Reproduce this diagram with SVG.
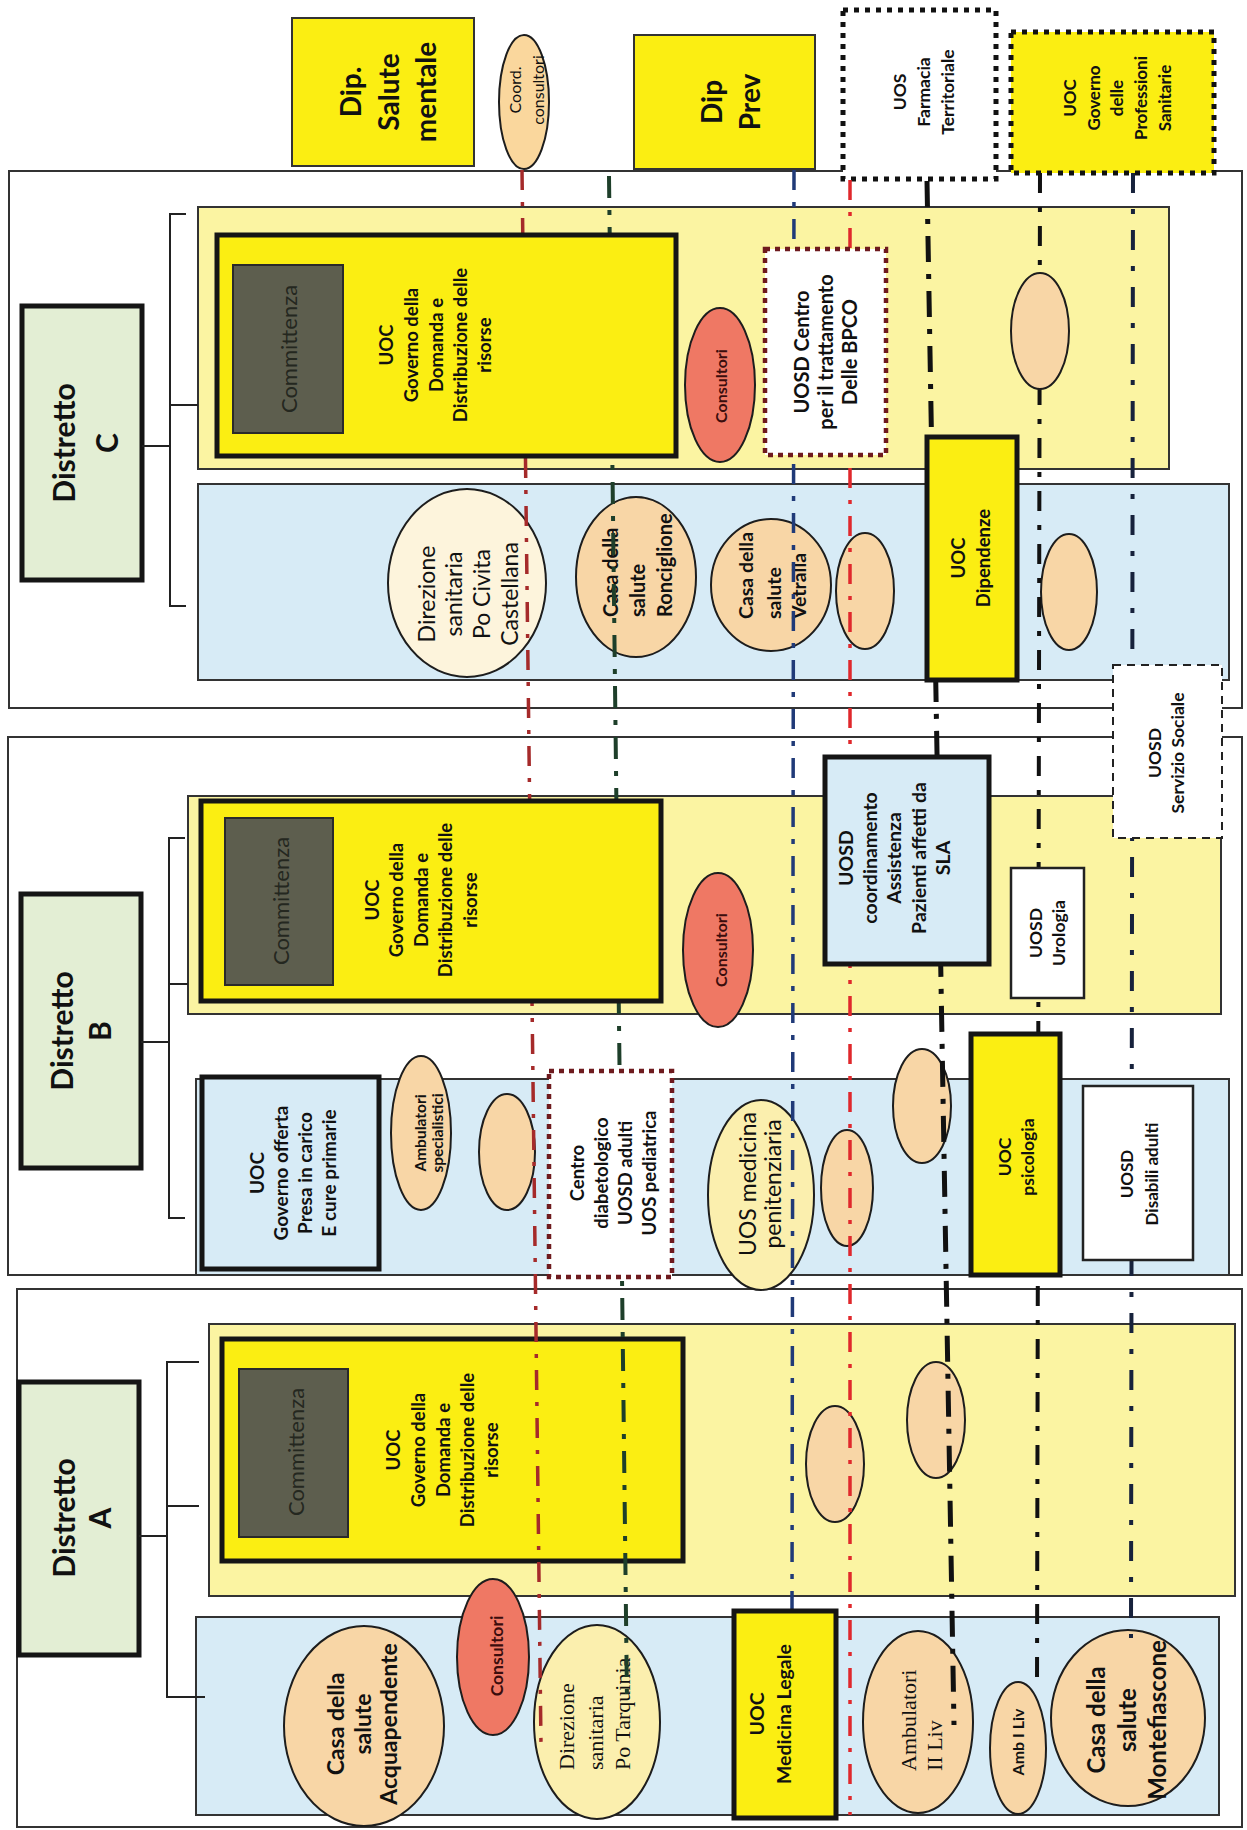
<svg xmlns="http://www.w3.org/2000/svg" width="1247" height="1830" viewBox="0 0 1247 1830">
<style>
.f{font-family:Lato,"Open Sans","Liberation Sans",sans-serif;font-weight:700;fill:#111;text-anchor:middle}
.n{font-weight:400}
.sf{font-family:"Liberation Serif","DejaVu Serif",serif;font-weight:400}
.st{text-anchor:start}
.frame{fill:#fff;stroke:#333;stroke-width:2}
.yb{fill:#fbf4a2;stroke:#333;stroke-width:2}
.bb{fill:#d7ebf6;stroke:#333;stroke-width:2}
.ybox{fill:#fbee12;stroke:#151515;stroke-width:5}
.bbox{fill:#d7ebf6;stroke:#151515;stroke-width:5}
.dist{fill:#e3eed4;stroke:#151515;stroke-width:5}
.comm{fill:#5d5e4e;stroke:#2a2a2a;stroke-width:2}
.topy{fill:#fbee12;stroke:#333;stroke-width:2}
.dotk{fill:#fff;stroke:#111;stroke-width:5;stroke-dasharray:5 6}
.doty{fill:#fbee12;stroke:#111;stroke-width:5;stroke-dasharray:5 6}
.dotr{fill:#fff;stroke:#6e1a1e;stroke-width:4.5;stroke-dasharray:5 5}
.dash{fill:#fff;stroke:#222;stroke-width:2;stroke-dasharray:8 6}
.wbox{fill:#fff;stroke:#222;stroke-width:2.5}
.el{stroke:#1d1d1d;stroke-width:2}
.peach{fill:#f8d6a6}
.cream{fill:#fdf4dc}
.lyel{fill:#fbefae}
.cons{fill:#ef7864}
.coord{fill:#fad79d}
.ct{fill:#24271f;font-weight:400}
.cr{fill:#3b0d0d}
.br{fill:none;stroke:#222;stroke-width:2}
.ln{fill:none}
</style>

<!-- background frames and bands -->
<g id="frameC"><rect class="frame" x="9" y="171" width="1233" height="537"/></g>
<g id="frameB"><rect class="frame" x="8" y="737" width="1234" height="538"/></g>
<g id="frameA"><rect class="frame" x="17" y="1289" width="1225" height="538"/></g>

<g id="yellowC"><rect class="yb" x="198" y="207" width="971" height="262"/></g>
<g id="blueC"><rect class="bb" x="198" y="484" width="1031" height="196"/></g>
<g id="yellowB"><rect class="yb" x="188" y="796" width="1033" height="218"/></g>
<g id="blueB"><rect class="bb" x="196" y="1079" width="1033" height="196"/></g>
<g id="yellowA"><rect class="yb" x="209" y="1324" width="1026" height="272"/></g>
<g id="blueA"><rect class="bb" x="196" y="1617" width="1023" height="198"/></g>

<!-- top boxes -->
<g id="dip-salute-mentale">
<rect class="topy" x="292" y="18" width="182" height="148"/>
<text class="f" font-size="28" transform="translate(0,92) rotate(-90)"><tspan x="0" y="361">Dip.</tspan><tspan x="0" y="399">Salute</tspan><tspan x="0" y="436">mentale</tspan></text>
</g>
<g id="coord-consultori">
<ellipse class="el coord" cx="524" cy="102" rx="25" ry="67"/>
<text class="f n" font-size="16" transform="translate(0,90) rotate(-90)"><tspan x="0" y="521">Coord.</tspan><tspan x="0" y="544">consultori</tspan></text>
</g>
<g id="dip-prev">
<rect class="topy" x="634" y="35" width="181" height="134"/>
<text class="f" font-size="28" transform="translate(0,102) rotate(-90)"><tspan x="0" y="722">Dip</tspan><tspan x="0" y="760">Prev</tspan></text>
</g>
<g id="uos-farmacia">
<rect class="dotk" x="843" y="10" width="153" height="169"/>
<text class="f" font-size="17.5" transform="translate(0,92) rotate(-90)"><tspan x="0" y="906">UOS</tspan><tspan x="0" y="930">Farmacia</tspan><tspan x="0" y="954">Territoriale</tspan></text>
</g>
<g id="uoc-professioni">
<rect class="doty" x="1011" y="32" width="203" height="141"/>
<text class="f" font-size="17" transform="translate(0,98) rotate(-90)"><tspan x="0" y="1076">UOC</tspan><tspan x="0" y="1100">Governo</tspan><tspan x="0" y="1123">delle</tspan><tspan x="0" y="1147">Professioni</tspan><tspan x="0" y="1171">Sanitarie</tspan></text>
</g>

<!-- Distretto labels -->
<g id="distretto-c">
<rect class="dist" x="22" y="306" width="120" height="274"/>
<text class="f" font-size="30" transform="translate(0,443) rotate(-90)"><tspan x="0" y="75">Distretto</tspan><tspan x="0" y="118">C</tspan></text>
</g>
<g id="distretto-b">
<rect class="dist" x="21" y="894" width="120" height="274"/>
<text class="f" font-size="30" transform="translate(0,1031) rotate(-90)"><tspan x="0" y="73">Distretto</tspan><tspan x="0" y="111">B</tspan></text>
</g>
<g id="distretto-a">
<rect class="dist" x="19" y="1382" width="120" height="273"/>
<text class="f" font-size="30" transform="translate(0,1518) rotate(-90)"><tspan x="0" y="75">Distretto</tspan><tspan x="0" y="111">A</tspan></text>
</g>

<!-- Distretto A governo (below lines) -->
<g id="uoc-governo-a">
<rect class="ybox" x="222" y="1339" width="461" height="222"/>
<rect class="comm" x="239" y="1369" width="109" height="168"/>
<text class="f ct" font-size="22" transform="translate(0,1452) rotate(-90)"><tspan x="0" y="304">Committenza</tspan></text>
<text class="f" font-size="18.5" transform="translate(0,1450) rotate(-90)"><tspan x="0" y="400">UOC</tspan><tspan x="0" y="425">Governo della</tspan><tspan x="0" y="450">Domanda e</tspan><tspan x="0" y="474">Distribuzione delle</tspan><tspan x="0" y="498">risorse</tspan></text>
</g>

<!-- ellipses under lines -->
<g id="direzione-civita">
<ellipse class="el cream" cx="467" cy="583" rx="79" ry="94"/>
<text class="f n" font-size="23" transform="translate(0,594) rotate(-90)"><tspan x="0" y="435">Direzione</tspan><tspan x="0" y="462">sanitaria</tspan><tspan x="0" y="490">Po Civita</tspan><tspan x="0" y="518">Castellana</tspan></text>
</g>
<g id="casa-ronciglione">
<ellipse class="el peach" cx="636" cy="577" rx="60" ry="80"/>
<text class="f st" font-size="20" transform="translate(0,617) rotate(-90)"><tspan x="0" y="618">Casa della</tspan><tspan x="0" y="645">salute</tspan><tspan x="0" y="672">Ronciglione</tspan></text>
</g>
<g id="casa-vetralla">
<ellipse class="el peach" cx="771" cy="585" rx="60" ry="66"/>
<text class="f st" font-size="19.5" transform="translate(0,619) rotate(-90)"><tspan x="0" y="753">Casa della</tspan><tspan x="0" y="781">salute</tspan><tspan x="0" y="806">Vetralla</tspan></text>
</g>
<g id="ellipse-c2"><ellipse class="el peach" cx="865" cy="591" rx="29" ry="58"/></g>
<g id="ellipse-c3"><ellipse class="el peach" cx="1069" cy="592" rx="28" ry="58"/></g>

<g id="consultori-b">
<ellipse class="el cons" cx="718" cy="950" rx="35" ry="77"/>
<text class="f cr" font-size="16" transform="translate(0,950) rotate(-90)"><tspan x="0" y="727">Consultori</tspan></text>
</g>
<g id="ambulatori-specialistici">
<ellipse class="el peach" cx="421" cy="1133" rx="30" ry="77"/>
<text class="f" font-size="15.5" transform="translate(0,1133) rotate(-90)"><tspan x="0" y="426">Ambulatori</tspan><tspan x="0" y="443">specialistici</tspan></text>
</g>
<g id="ellipse-b1"><ellipse class="el peach" cx="507" cy="1152" rx="28" ry="58"/></g>
<g id="uos-medicina-penitenziaria">
<ellipse class="el lyel" cx="761" cy="1195" rx="53" ry="95"/>
<text class="f n" font-size="23" transform="translate(0,1184) rotate(-90)"><tspan x="0" y="756">UOS medicina</tspan><tspan x="0" y="781">penitenziaria</tspan></text>
</g>
<g id="ellipse-b2"><ellipse class="el peach" cx="847" cy="1188" rx="26" ry="58"/></g>
<g id="ellipse-b3"><ellipse class="el peach" cx="922" cy="1106" rx="29" ry="57"/></g>

<g id="ellipse-a1"><ellipse class="el peach" cx="835" cy="1464" rx="29" ry="58"/></g>
<g id="ellipse-a2"><ellipse class="el peach" cx="936" cy="1420" rx="29" ry="58"/></g>
<g id="consultori-a">
<ellipse class="el cons" cx="493" cy="1657" rx="36" ry="78"/>
<text class="f cr" font-size="17.5" transform="translate(0,1656) rotate(-90)"><tspan x="0" y="503">Consultori</tspan></text>
</g>
<g id="casa-acquapendente">
<ellipse class="el peach" cx="364" cy="1726" rx="80" ry="100"/>
<text class="f" font-size="23" transform="translate(0,1724) rotate(-90)"><tspan x="0" y="344">Casa della</tspan><tspan x="0" y="371">salute</tspan><tspan x="0" y="397">Acquapendente</tspan></text>
</g>
<g id="direzione-tarquinia">
<ellipse class="el lyel" cx="597" cy="1722" rx="63" ry="97"/>
<text class="f sf st" font-size="22" transform="translate(0,1770) rotate(-90)"><tspan x="0" y="574">Direzione</tspan><tspan x="0" y="603">sanitaria</tspan><tspan x="0" y="630">Po Tarquinia</tspan></text>
</g>
<g id="ambulatori-ii-liv">
<ellipse class="el peach" cx="918" cy="1722" rx="55" ry="91"/>
<text class="f sf st" font-size="22" transform="translate(0,1771) rotate(-90)"><tspan x="0" y="916">Ambulatori</tspan><tspan x="0" y="942">II Liv</tspan></text>
</g>
<g id="amb-i-liv">
<ellipse class="el peach" cx="1018" cy="1748" rx="28" ry="66"/>
<text class="f" font-size="16" transform="translate(0,1742) rotate(-90)"><tspan x="0" y="1024">Amb I Liv</tspan></text>
</g>
<g id="casa-montefiascone">
<ellipse class="el peach" cx="1128" cy="1718" rx="77" ry="88"/>
<text class="f" font-size="24" transform="translate(0,1720) rotate(-90)"><tspan x="0" y="1105">Casa della</tspan><tspan x="0" y="1136">salute</tspan><tspan x="0" y="1166">Montefiascone</tspan></text>
</g>

<!-- connectors -->
<g id="connectors">
<path class="br" d="M186,214 H170 V606 H186 M170,405 H198 M142,446 H170"/>
<path class="br" d="M185,838 H169 V1218 H185 M169,984 H188 M141,1042 H169"/>
<path class="br" d="M199,1362 H167 V1697 H205 M167,1506 H199 M139,1536 H167"/>
<path class="ln" d="M522,170 L541,1745" stroke="#a52a2a" stroke-width="3.5" stroke-dasharray="20 12 4 12"/>
<path class="ln" d="M609,176 L627,1700" stroke="#1e3f2a" stroke-width="4" stroke-dasharray="22 12 5 12"/>
<path class="ln" d="M794,170 L792,1611" stroke="#203a78" stroke-width="3.5" stroke-dasharray="20 12 5 12"/>
<path class="ln" d="M850,180 L850,1815" stroke="#e0282c" stroke-width="3.5" stroke-dasharray="20 12 4 12"/>
<path class="ln" d="M927,181 L954,1725" stroke="#111" stroke-width="5" stroke-dasharray="26 12 5 12"/>
<path class="ln" d="M1040,173 L1037,1690" stroke="#111" stroke-width="4" stroke-dasharray="20 14 5 14"/>
<path class="ln" d="M1133,173 L1131,1638" stroke="#17223c" stroke-width="4" stroke-dasharray="20 16 5 16"/>
</g>

<!-- foreground nodes -->
<g id="uoc-governo-c">
<rect class="ybox" x="217" y="235" width="459" height="221"/>
<rect class="comm" x="233" y="265" width="110" height="168"/>
<text class="f ct" font-size="22" transform="translate(0,349) rotate(-90)"><tspan x="0" y="297">Committenza</tspan></text>
<text class="f" font-size="18.5" transform="translate(0,345) rotate(-90)"><tspan x="0" y="393">UOC</tspan><tspan x="0" y="418">Governo della</tspan><tspan x="0" y="443">Domanda e</tspan><tspan x="0" y="467">Distribuzione delle</tspan><tspan x="0" y="491">risorse</tspan></text>
</g>
<g id="consultori-c">
<ellipse class="el cons" cx="720" cy="385" rx="35" ry="77"/>
<text class="f cr" font-size="16" transform="translate(0,386) rotate(-90)"><tspan x="0" y="727">Consultori</tspan></text>
</g>
<g id="uosd-bpco">
<rect class="dotr" x="765" y="249" width="121" height="206"/>
<text class="f" font-size="20" transform="translate(0,352) rotate(-90)"><tspan x="0" y="809">UOSD Centro</tspan><tspan x="0" y="833">per il trattamento</tspan><tspan x="0" y="857">Delle BPCO</tspan></text>
</g>
<g id="ellipse-c1"><ellipse class="el peach" cx="1040" cy="331" rx="29" ry="58"/></g>
<g id="uoc-dipendenze">
<rect class="ybox" x="927" y="437" width="90" height="243"/>
<text class="f" font-size="18.5" transform="translate(0,558) rotate(-90)"><tspan x="0" y="965">UOC</tspan><tspan x="0" y="990">Dipendenze</tspan></text>
</g>
<g id="uosd-servizio-sociale">
<rect class="dash" x="1113" y="665" width="109" height="173"/>
<text class="f" font-size="17.5" transform="translate(0,753) rotate(-90)"><tspan x="0" y="1161">UOSD</tspan><tspan x="0" y="1184">Servizio Sociale</tspan></text>
</g>

<g id="uoc-governo-b">
<rect class="ybox" x="201" y="801" width="460" height="200"/>
<rect class="comm" x="225" y="818" width="108" height="167"/>
<text class="f ct" font-size="22" transform="translate(0,901) rotate(-90)"><tspan x="0" y="289">Committenza</tspan></text>
<text class="f" font-size="18.5" transform="translate(0,900) rotate(-90)"><tspan x="0" y="379">UOC</tspan><tspan x="0" y="403">Governo della</tspan><tspan x="0" y="428">Domanda e</tspan><tspan x="0" y="452">Distribuzione delle</tspan><tspan x="0" y="477">risorse</tspan></text>
</g>
<g id="uosd-coordinamento-sla">
<rect class="bbox" x="825" y="757" width="164" height="207"/>
<text class="f" font-size="19.5" transform="translate(0,858) rotate(-90)"><tspan x="0" y="853">UOSD</tspan><tspan x="0" y="877">coordinamento</tspan><tspan x="0" y="901">Assistenza</tspan><tspan x="0" y="926">Pazienti affetti da</tspan><tspan x="0" y="950">SLA</tspan></text>
</g>
<g id="uosd-urologia">
<rect class="wbox" x="1011" y="868" width="73" height="130"/>
<text class="f" font-size="17.5" transform="translate(0,933) rotate(-90)"><tspan x="0" y="1042">UOSD</tspan><tspan x="0" y="1065">Urologia</tspan></text>
</g>
<g id="uoc-governo-offerta">
<rect class="bbox" x="202" y="1077" width="177" height="192"/>
<text class="f" font-size="19" transform="translate(0,1173) rotate(-90)"><tspan x="0" y="264">UOC</tspan><tspan x="0" y="288">Governo offerta</tspan><tspan x="0" y="312">Presa in carico</tspan><tspan x="0" y="336">E cure primarie</tspan></text>
</g>
<g id="centro-diabetologico">
<rect class="dotr" x="549" y="1071" width="123" height="206"/>
<text class="f" font-size="18.5" transform="translate(0,1173) rotate(-90)"><tspan x="0" y="584">Centro</tspan><tspan x="0" y="608">diabetologico</tspan><tspan x="0" y="632">UOSD adulti</tspan><tspan x="0" y="656">UOS pediatrica</tspan></text>
</g>
<g id="uoc-psicologia">
<rect class="ybox" x="971" y="1034" width="89" height="241"/>
<text class="f" font-size="17.5" transform="translate(0,1157) rotate(-90)"><tspan x="0" y="1011">UOC</tspan><tspan x="0" y="1034">psicologia</tspan></text>
</g>
<g id="uosd-disabili-adulti">
<rect class="wbox" x="1083" y="1086" width="110" height="174"/>
<text class="f" font-size="17" transform="translate(0,1174) rotate(-90)"><tspan x="0" y="1133">UOSD</tspan><tspan x="0" y="1158">Disabili adulti</tspan></text>
</g>

<g id="uoc-medicina-legale">
<rect class="ybox" x="734" y="1611" width="102" height="207"/>
<text class="f" font-size="19.5" transform="translate(0,1714) rotate(-90)"><tspan x="0" y="764">UOC</tspan><tspan x="0" y="791">Medicina Legale</tspan></text>
</g>
</svg>
